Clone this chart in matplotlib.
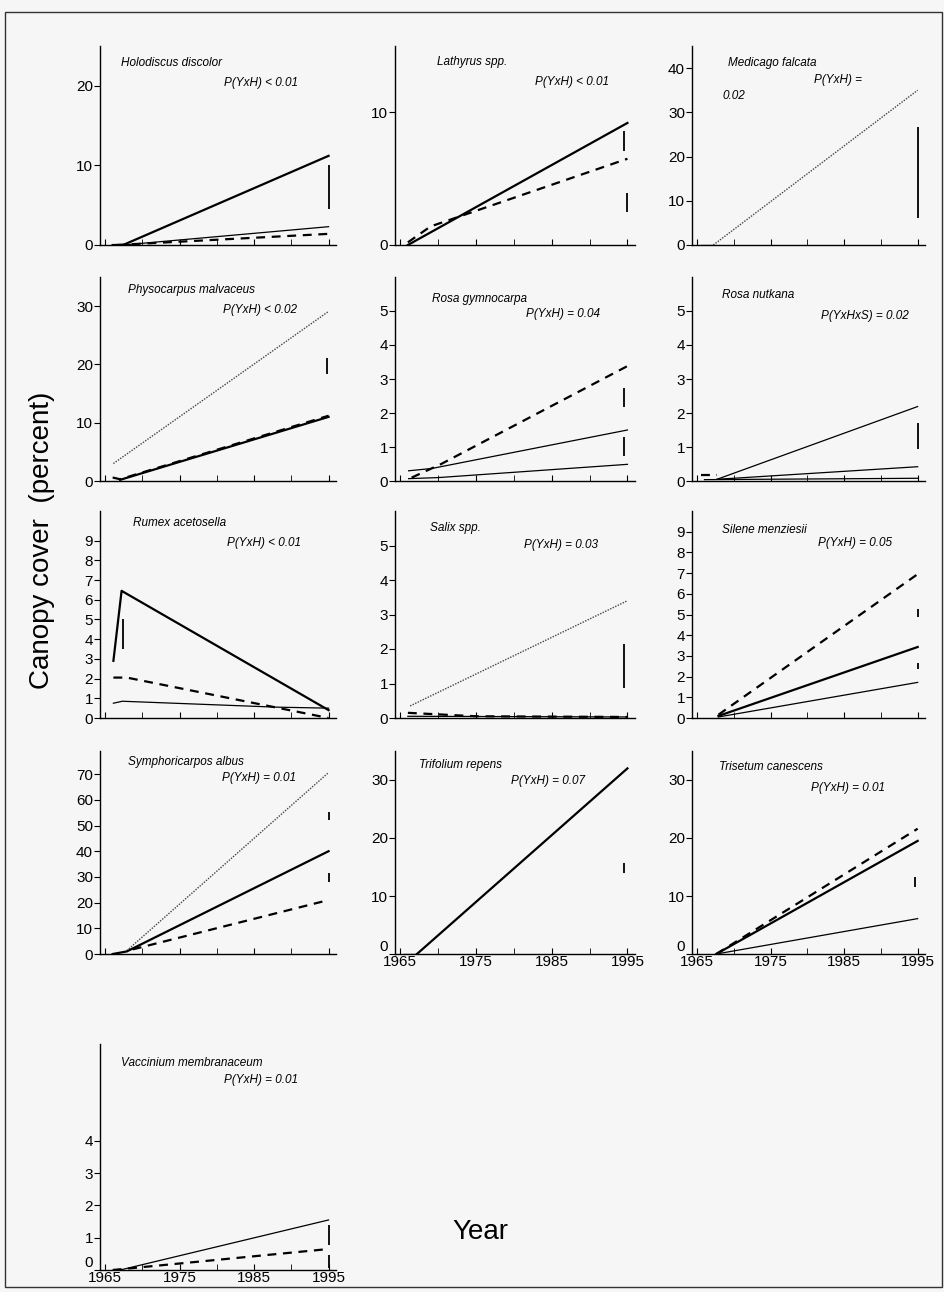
import matplotlib
matplotlib.use("Agg")
from matplotlib import pyplot as plt
from matplotlib.patches import Rectangle

plt.rcParams['font.family'] = ['Liberation Sans', 'DejaVu Sans']

# panel order: left to right, top to bottom
species = ["Holodiscus discolor", "Lathyrus spp.", "Medicago falcata",
           "Physocarpus malvaceus", "Rosa gymnocarpa", "Rosa nutkana",
           "Rumex acetosella", "Salix spp.", "Silene menziesii",
           "Symphoricarpos albus", "Trifolium repens", "Trisetum canescens",
           "Vaccinium membranaceum"]
p_labels = ["P(YxH) < 0.01", "P(YxH) < 0.01", "P(YxH) =",
            "P(YxH) < 0.02", "P(YxH) = 0.04", "P(YxHxS) = 0.02",
            "P(YxH) < 0.01", "P(YxH) = 0.03", "P(YxH) = 0.05",
            "P(YxH) = 0.01", "P(YxH) = 0.07", "P(YxH) = 0.01",
            "P(YxH) = 0.01"]
y_max = [25, 15, 45, 35, 6, 6, 10.5, 6, 10, 79, 35, 35, 7]
y_ticks = [[0, 10, 20], [0, 10], [0, 10, 20, 30, 40],
           [0, 10, 20, 30], list(range(6)), list(range(6)),
           list(range(10)), list(range(6)), list(range(10)),
           list(range(0, 80, 10)), [0, 10, 20, 30], [0, 10, 20, 30],
           list(range(5))]

# series: style -> (years, cover)
holodiscus = [("thick", [1966, 1967.4, 1995], [0, 0, 11.2]),
              ("thin", [1966, 1967.4, 1995], [0, 0, 2.3]),
              ("dash", [1966.5, 1995], [0, 1.4])]
lathyrus = [("thick", [1966, 1995], [0, 9.2]),
            ("dash", [1966, 1969, 1995], [0.2, 1.4, 6.5])]
medicago = [("thin", [1965.5, 1967.2], [0, 0]),
            ("dot", [1967.2, 1995], [0, 35])]
physocarpus = [("dot", [1966.1, 1995], [3.0, 29.1]),
               ("thick", [1967, 1995], [0.2, 11.0]),
               ("dash", [1966, 1967, 1995], [0.6, 0.3, 11.2])]
rosa_gym = [("dash", [1966.5, 1970.4, 1995], [0.1, 0.5, 3.38]),
            ("thin", [1966.1, 1969.2, 1995], [0.3, 0.37, 1.5]),
            ("thin", [1966.1, 1970, 1995], [0.07, 0.1, 0.49])]
rosa_nut = [("thin", [1967.7, 1995], [0.05, 2.19]),
            ("thin", [1967.7, 1995], [0.05, 0.42]),
            ("thin", [1966, 1995], [0.04, 0.08]),
            ("dash", [1965.5, 1967.7], [0.18, 0.18])]
rumex = [("thick", [1966.1, 1967.2, 1995], [2.9, 6.45, 0.4]),
         ("dash", [1966.1, 1967.9, 1995], [2.05, 2.05, 0.0]),
         ("thin", [1966.1, 1967.3, 1988, 1995], [0.75, 0.85, 0.55, 0.5])]
salix = [("dot", [1966.3, 1995], [0.35, 3.4]),
         ("dash", [1966, 1975, 1995], [0.15, 0.05, 0.03]),
         ("thin", [1966, 1995], [0.05, 0.03])]
silene = [("dash", [1967.9, 1995], [0.16, 6.95]),
          ("thick", [1967.9, 1995], [0.1, 3.43]),
          ("thin", [1967.9, 1995], [0.05, 1.72])]
symphoricarpos = [("dot", [1967.9, 1995], [1.3, 70.6]),
                  ("thick", [1966, 1967.9, 1995], [0, 1.0, 40]),
                  ("dash", [1968.7, 1995], [1.8, 21])]
trifolium = [("thin", [1965.5, 1967.2], [0, 0]),
             ("thick", [1967.2, 1995], [0, 32])]
trisetum = [("dash", [1967.6, 1995], [0, 21.6]),
            ("thick", [1967.6, 1995], [0, 19.5]),
            ("thin", [1967.6, 1995], [0, 6.1])]
vaccinium = [("thin", [1967, 1995], [0, 1.55]),
             ("dash", [1966, 1995], [0, 0.65])]
series = [holodiscus, lathyrus, medicago, physocarpus, rosa_gym, rosa_nut,
          rumex, salix, silene, symphoricarpos, trifolium, trisetum, vaccinium]

# LSD bars: (year, low, high)
bars = [[(1995, 4.5, 10.0)],
        [(1994.6, 7.1, 8.6), (1995, 2.5, 3.9)],
        [(1995, 6.0, 26.7)],
        [(1994.8, 18.4, 21.1)],
        [(1994.6, 2.17, 2.75), (1994.6, 0.74, 1.28)],
        [(1995, 0.93, 1.71)],
        [(1967.4, 3.5, 5.0)],
        [(1994.6, 0.88, 2.15)],
        [(1995, 4.9, 5.26), (1995, 2.37, 2.65)],
        [(1995, 52.3, 55.3), (1995, 28.1, 31.4)],
        [(1994.6, 14.0, 15.7)],
        [(1994.7, 11.6, 13.3)],
        [(1995, 0.77, 1.38), (1995, 0.06, 0.46)]]

styles = {"thick": dict(color="black", lw=1.6, ls="-"),
          "thin": dict(color="black", lw=0.9, ls="-"),
          "dash": dict(color="black", lw=1.6, ls=(0, (4, 3))),
          "dot": dict(color="#444444", lw=1.0, ls=(0, (1, 1)))}

W, H = 945, 1292
fig = plt.figure(figsize=(W / 100, H / 100), dpi=100)
fig.patch.set_facecolor("#f6f6f6")
fig.patches.append(Rectangle((5 / W, 1 - 1287 / H), 937 / W, 1275 / H,
                             transform=fig.transFigure, fill=False,
                             lw=1.0, ec="#333333"))

cols = [(100, 336), (395, 635), (692, 925)]
rows = [(46, 245), (277, 481), (511, 718), (751, 954), (1044, 1270)]

# text positions (axes fraction): name x, name y, p right x, p y
txt_pos = [(.09, .915, .84, .815), (.175, .92, .89, .82), (.155, .915, .73, .83),
           (.12, .936, .835, .84), (.153, .89, .855, .82), (.127, .91, .93, .81),
           (.14, .94, .85, .845), (.146, .92, .846, .835), (.127, .91, .857, .845),
           (.12, .947, .83, .867), (.10, .93, .79, .85), (.116, .92, .83, .82),
           (.09, .916, .84, .84)]

for i in range(len(species)):
    r, c = divmod(i, 3)
    x0, x1 = cols[c]
    top, bot = rows[r]
    ax = fig.add_axes([x0 / W, 1 - bot / H, (x1 - x0) / W, (bot - top) / H])
    ax.set_facecolor("none")
    for style, xs, ys in series[i]:
        ax.plot(xs, ys, **styles[style])
    for bx, lo, hi in bars[i]:
        ax.vlines(bx, lo, hi, color="black", lw=1.3)
    ax.set_xlim(1964.3, 1996)
    ax.set_ylim(0, y_max[i])
    ax.set_yticks(y_ticks[i])
    ax.set_xticks([1965, 1975, 1985, 1995])
    ax.set_xticks([1970, 1980, 1990], minor=True)
    for s in ("top", "right"):
        ax.spines[s].set_visible(False)
    ax.spines["left"].set_linewidth(1.0)
    ax.spines["bottom"].set_linewidth(1.0)
    ax.tick_params(axis="y", direction="out", length=4, labelsize=11, pad=1)
    ax.tick_params(axis="x", which="both", direction="in", length=4,
                   labelsize=11, pad=1)
    if r >= 3 and (r == 4 or c > 0):
        ax.set_xticklabels(["1965", "1975", "1985", "1995"])
        # the "0" sits just above the year labels, as in the original
        ax.yaxis.get_major_ticks()[0].label1.set_va("bottom")
    else:
        ax.set_xticklabels([])
    nx, ny, px, py = txt_pos[i]
    ax.text(nx, ny, species[i], transform=ax.transAxes, fontsize=8.5,
            style="italic", ha="left", va="center")
    ax.text(px, py, p_labels[i], transform=ax.transAxes, fontsize=8.5,
            style="italic", ha="right", va="center")
    if i == 2:
        ax.text(.13, .75, "0.02", transform=ax.transAxes, fontsize=8.5,
                style="italic", ha="left", va="center")

fig.text(42 / W, 1 - 540 / H, "Canopy cover  (percent)", rotation=90,
         fontsize=20, ha="center", va="center")
fig.text(480 / W, 1 - 1232 / H, "Year", fontsize=20, ha="center", va="center")

fig.savefig("out.png", dpi=100, facecolor=fig.get_facecolor())
